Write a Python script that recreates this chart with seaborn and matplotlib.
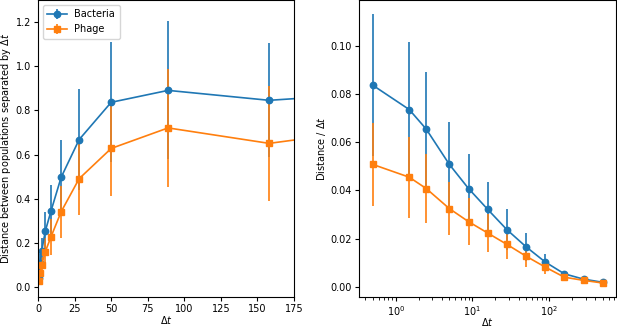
import numpy as np
import matplotlib
matplotlib.use("Agg")
import matplotlib.pyplot as plt
import seaborn as sns

# time lags (Δt)
dt = [0.5, 1.5, 2.5, 5, 8.9, 15.8, 28.1, 50, 88.9, 158, 281, 500]

# left panel: distance between populations separated by Δt
bact_dist = [0.042, 0.110, 0.163, 0.254, 0.345, 0.497, 0.668, 0.837, 0.891, 0.846, 0.90, 0.95]
bact_dist_err = [0.015, 0.042, 0.059, 0.087, 0.119, 0.171, 0.229, 0.272, 0.313, 0.258, 0.26, 0.27]
phage_dist = [0.027, 0.065, 0.101, 0.161, 0.228, 0.341, 0.491, 0.628, 0.721, 0.651, 0.76, 0.80]
phage_dist_err = [0.009, 0.025, 0.035, 0.06, 0.082, 0.119, 0.166, 0.217, 0.266, 0.262, 0.25, 0.25]

# right panel: distance / Δt
bact_rate = [0.0836, 0.0735, 0.0654, 0.0508, 0.0408, 0.0322, 0.0238, 0.0167, 0.0104, 0.0055, 0.0033, 0.0020]
bact_rate_err = [0.0294, 0.028, 0.0235, 0.0175, 0.0142, 0.0112, 0.0084, 0.0057, 0.0031, 0.0012, 0.0007, 0.0005]
phage_rate = [0.0508, 0.0455, 0.0408, 0.0325, 0.0271, 0.0224, 0.0177, 0.0128, 0.0083, 0.0041, 0.0028, 0.0017]
phage_rate_err = [0.0172, 0.0168, 0.0141, 0.0109, 0.0097, 0.008, 0.0059, 0.0045, 0.003, 0.0012, 0.0008, 0.0005]

labels = ["Bacteria", "Phage"]

colors = sns.color_palette("tab10", 2)
plt.rcParams["font.family"] = ["DejaVu Sans"]
plt.rcParams["font.size"] = 7

fig = plt.figure(figsize=(6.17, 3.27), dpi=100)
ax1 = fig.add_axes([0.0616, 0.0917, 0.415, 0.908])
ax2 = fig.add_axes([0.582, 0.0917, 0.416, 0.908])

kw = dict(lw=1.2, ms=4.6, elinewidth=1.2)

# 左图
ax1.errorbar(dt, bact_dist, yerr=bact_dist_err, fmt="-o", color=colors[0], label=labels[0], **kw)
ax1.errorbar(dt, phage_dist, yerr=phage_dist_err, fmt="-s", color=colors[1], label=labels[1], **kw)
ax1.set_xlim(0, 175)
ax1.set_ylim(-0.045, 1.30)
ax1.set_xticks(np.arange(0, 176, 25))
ax1.set_yticks(np.arange(0, 1.21, 0.2))
ax1.set_xlabel(r"$\Delta t$", labelpad=0)
ax1.set_ylabel(r"Distance between populations separated by $\Delta t$", labelpad=2)
ax1.legend(loc="upper left", fontsize=7, borderpad=0.45, handlelength=2.0)

# 右图
ax2.errorbar(dt, bact_rate, yerr=bact_rate_err, fmt="-o", color=colors[0], **kw)
ax2.errorbar(dt, phage_rate, yerr=phage_rate_err, fmt="-s", color=colors[1], **kw)
ax2.set_xscale("log")
ax2.set_xlim(0.333, 740)
ax2.set_ylim(-0.0041, 0.1188)
ax2.set_yticks(np.arange(0, 0.101, 0.02))
ax2.set_xlabel(r"$\Delta t$")
ax2.xaxis.set_label_coords(0.5, -0.064)
ax2.set_ylabel(r"Distance / $\Delta t$", labelpad=2)

for ax in (ax1, ax2):
    ax.tick_params(labelsize=7, length=3, pad=2)

fig.savefig("out.png", dpi=100)
